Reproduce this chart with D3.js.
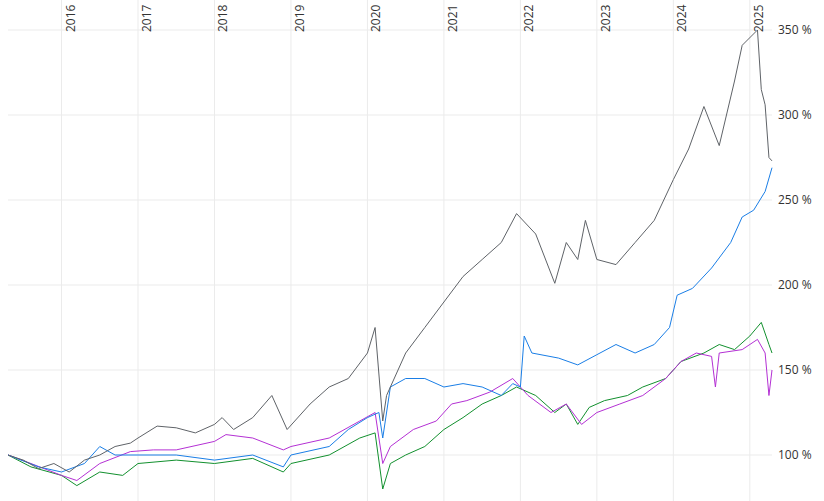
<!DOCTYPE html><html><head><meta charset="utf-8"><script src="https://cdn.jsdelivr.net/npm/d3@7"></script>
<style>body{margin:0;background:#fff}text{font-family:"Open Sans",sans-serif;font-size:12px;fill:#333}</style></head><body><svg id="c" width="824" height="501"></svg><script>
const yearTicks=[2016,2017,2018,2019,2020,2021,2022,2023,2024,2025];
const yTicks=[100,150,200,250,300,350];
const grayT=[2015.3,2015.5,2015.7,2015.9,2016.1,2016.3,2016.5,2016.7,2016.9,2017.0,2017.25,2017.5,2017.75,2018.0,2018.1,2018.25,2018.5,2018.75,2018.95,2019.25,2019.5,2019.75,2020.0,2020.1,2020.2,2020.25,2020.5,2020.75,2021.0,2021.25,2021.5,2021.75,2021.95,2022.2,2022.45,2022.6,2022.75,2022.85,2023.0,2023.25,2023.5,2023.75,2024.0,2024.2,2024.4,2024.6,2024.8,2024.9,2025.1,2025.15,2025.2,2025.25,2025.29];
const grayV=[100,97,92,95,90,97,100,105,107,110,117,116,113,118,122,115,122,135,115,130,140,145,160,175,120,135,160,175,190,205,215,225,242,230,201,225,215,238,215,212,225,238,262,280,305,282,320,341,350,315,306,275,273];
const blueT=[2015.3,2015.7,2016.0,2016.3,2016.5,2016.7,2017.0,2017.5,2018.0,2018.5,2018.9,2019.0,2019.5,2019.75,2020.0,2020.15,2020.2,2020.3,2020.5,2020.75,2021.0,2021.25,2021.5,2021.75,2021.9,2022.0,2022.05,2022.15,2022.5,2022.75,2023.0,2023.25,2023.5,2023.75,2023.95,2024.05,2024.25,2024.5,2024.75,2024.9,2025.05,2025.2,2025.29];
const blueV=[100,93,90,95,105,100,100,100,97,100,93,100,105,115,122,125,110,140,145,145,140,142,140,135,142,140,170,160,157,153,159,165,160,165,175,194,198,210,225,240,244,255,269];
const greenT=[2015.3,2015.6,2016.0,2016.2,2016.5,2016.8,2017.0,2017.5,2018.0,2018.5,2018.9,2019.0,2019.5,2019.9,2020.1,2020.2,2020.3,2020.5,2020.75,2021.0,2021.25,2021.5,2021.75,2021.95,2022.2,2022.45,2022.6,2022.75,2022.9,2023.1,2023.4,2023.6,2023.9,2024.1,2024.4,2024.6,2024.8,2025.0,2025.15,2025.25,2025.29];
const greenV=[100,93,88,82,90,88,95,97,95,98,90,95,100,110,113,80,95,100,105,115,122,130,135,140,135,125,130,118,128,132,135,140,145,155,160,165,162,170,178,165,160];
const purpleT=[2015.3,2015.6,2016.0,2016.2,2016.5,2016.9,2017.2,2017.5,2018.0,2018.15,2018.5,2018.9,2019.0,2019.5,2019.9,2020.1,2020.2,2020.3,2020.6,2020.9,2021.1,2021.3,2021.6,2021.9,2022.1,2022.4,2022.6,2022.8,2023.0,2023.3,2023.6,2023.9,2024.1,2024.3,2024.5,2024.55,2024.6,2024.9,2025.1,2025.2,2025.25,2025.29];
const purpleV=[100,95,88,85,95,102,103,103,108,112,110,103,105,110,120,125,95,105,115,120,130,132,137,145,135,125,130,118,125,130,135,145,155,160,158,140,160,162,168,160,135,150];
const series=[{t:greenT,v:greenV,c:"#12902e"},{t:purpleT,v:purpleV,c:"#b430d4"},{t:blueT,v:blueV,c:"#1a7ee6"},{t:grayT,v:grayV,c:"#5f6368"}];
const svg=d3.select("#c");
const x=d3.scaleLinear().domain([2015.3,2025.29]).range([8,772]);
const y=d3.scaleLinear().domain([100,350]).range([455,30]);
const g=svg.append("g");
g.selectAll(".hg").data(yTicks).join("line").attr("x1",8).attr("x2",772).attr("y1",d=>y(d)).attr("y2",d=>y(d)).attr("stroke","#ebebeb");
g.selectAll(".vg").data(yearTicks).join("line").attr("x1",d=>x(d)).attr("x2",d=>x(d)).attr("y1",0).attr("y2",501).attr("stroke","#ebebeb");
g.selectAll(".yl").data(yTicks).join("text").attr("x",778).attr("y",d=>y(d)+4).text(d=>d+" %");
g.selectAll(".xl").data(yearTicks).join("text").attr("transform",d=>`translate(${x(d)+13},32) rotate(-90)`).text(d=>d);
const line=d3.line().x(d=>x(d[0])).y(d=>y(d[1])).curve(d3.curveLinear);
series.forEach(s=>{svg.append("path").attr("d",line(s.t.map((t,i)=>[t,s.v[i]]))).attr("fill","none").attr("stroke",s.c).attr("stroke-width",1);});
</script></body></html>
